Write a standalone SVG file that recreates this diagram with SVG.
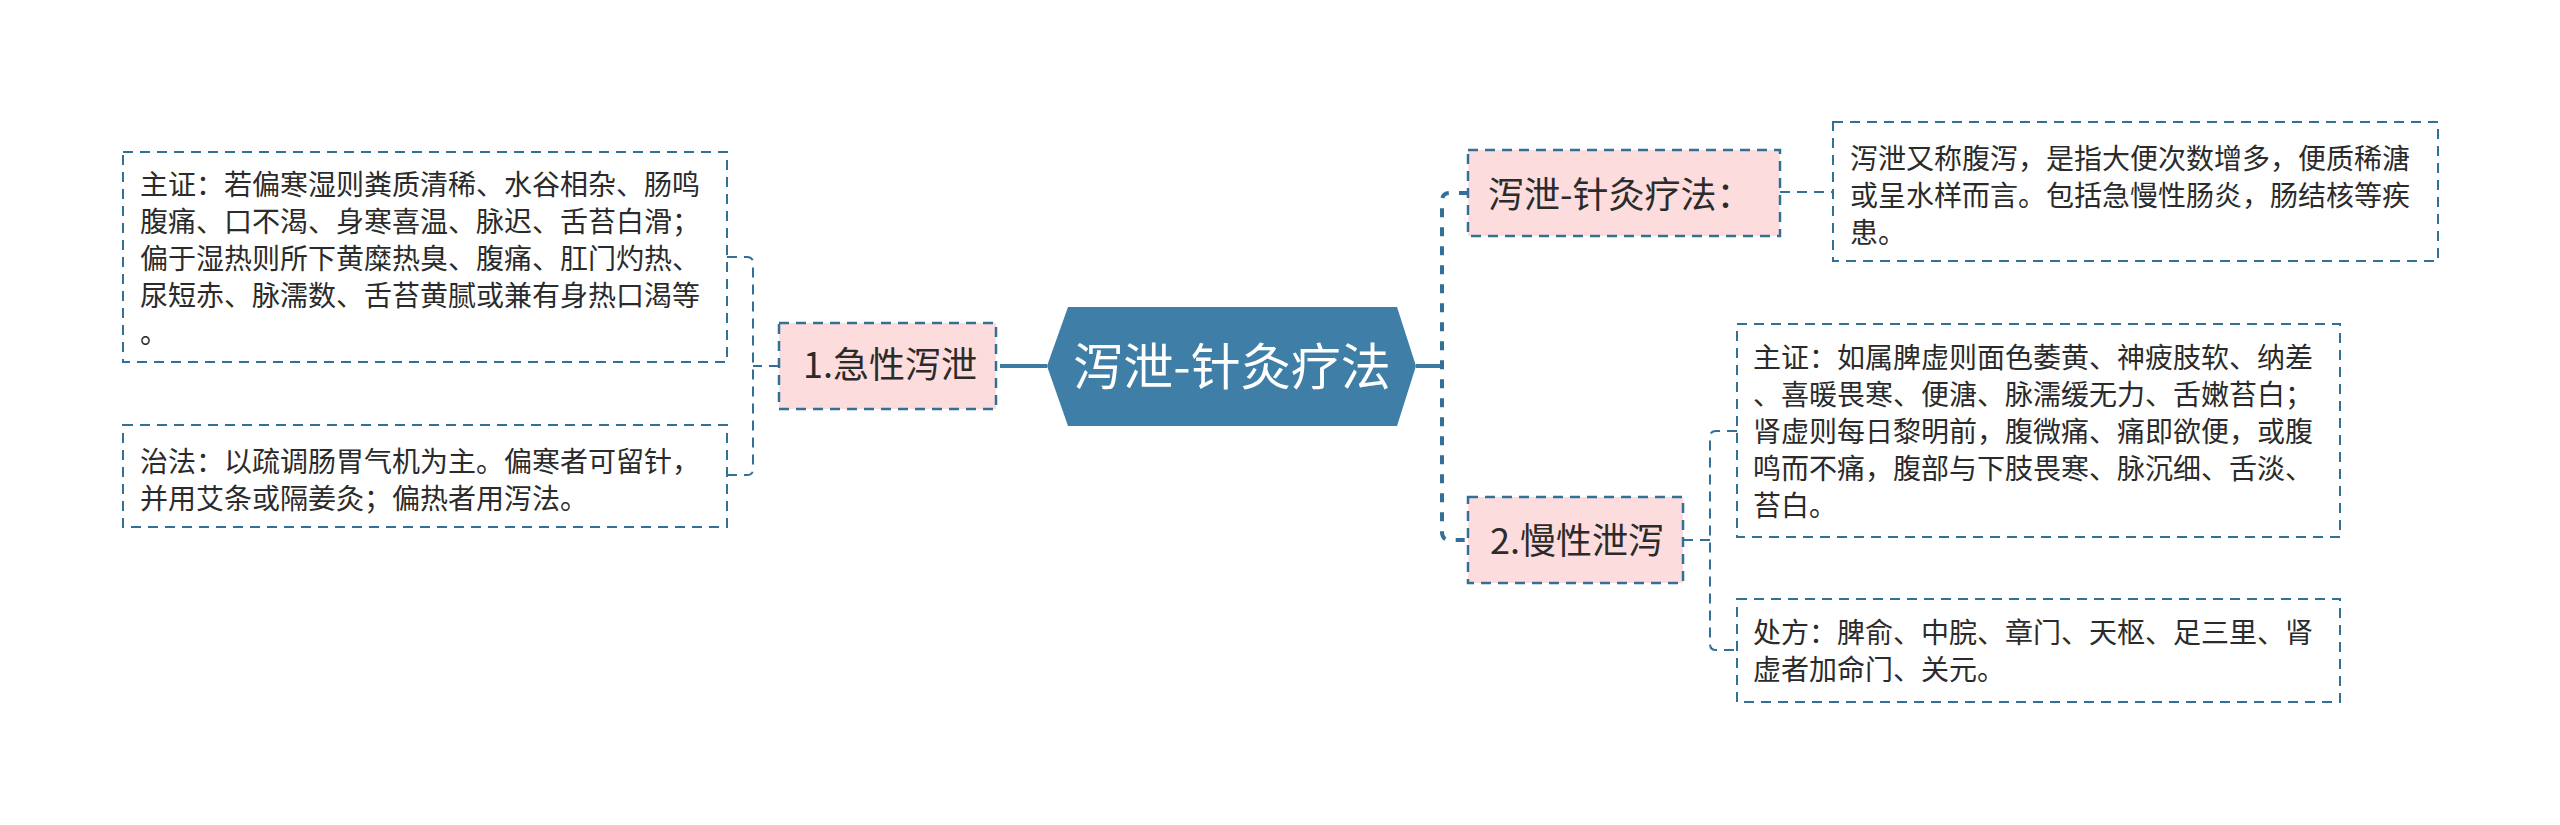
<svg xmlns="http://www.w3.org/2000/svg" width="2560" height="825" viewBox="0 0 2560 825">
<style>
.box{fill:#ffffff;stroke:#336f96;stroke-width:2;stroke-dasharray:10 7;}
.sub{fill:#fcdcdc;stroke:#336f96;stroke-width:2.5;stroke-dasharray:10 7;}
.t{font-family:"Noto Sans CJK SC","Noto Sans",sans-serif;font-size:28px;fill:#2b2b2b;}
.n{font-family:"Noto Sans CJK SC","Noto Sans",sans-serif;font-size:36px;fill:#2b2b2b;}
.c{font-family:"Noto Sans CJK SC","Noto Sans",sans-serif;font-size:50px;fill:#ffffff;text-anchor:middle;}
.thin{fill:none;stroke:#336f96;stroke-width:2;stroke-dasharray:10 7;}
.thick{fill:none;stroke:#336f96;stroke-width:4;stroke-dasharray:9 10;}
.solid{fill:none;stroke:#3b7aa2;stroke-width:4;}
</style>
<rect width="2560" height="825" fill="#ffffff"/>
<g id="connectors">
<line class="solid" x1="1000" y1="366" x2="1047" y2="366"/>
<line class="solid" x1="1416" y1="366" x2="1442" y2="366"/>
<path class="thick" d="M1468,193 H1450 Q1442,193 1442,201 V532 Q1442,540 1450,540 H1468"/>
<path class="thin" d="M779,366 H753"/>
<path class="thin" d="M727,257 H747 Q753,257 753,263 V469 Q753,475 747,475 H727"/>
<line class="thin" x1="1780" y1="192" x2="1832" y2="192"/>
<path class="thin" d="M1683,540 H1710"/>
<path class="thin" d="M1737,431 H1716 Q1710,431 1710,437 V644 Q1710,650 1716,650 H1737"/>
</g>
<g id="root">
<polygon points="1047,366 1068,307 1397,307 1416,366 1397,426 1068,426" fill="#3f7ea7"/>
<text class="c" x="1232" y="385">泻泄-针灸疗法</text>
</g>
<g id="node-acute">
<rect class="sub" x="779" y="323" width="217" height="86"/>
<text class="n" x="803" y="378">1.急性泻泄</text>
</g>
<g id="node-acute-symptom">
<rect class="box" x="123" y="152" width="604" height="210"/>
<text class="t" x="140" y="195">主证：若偏寒湿则粪质清稀、水谷相杂、肠鸣</text>
<text class="t" x="140" y="232">腹痛、口不渴、身寒喜温、脉迟、舌苔白滑；</text>
<text class="t" x="140" y="269">偏于湿热则所下黄糜热臭、腹痛、肛门灼热、</text>
<text class="t" x="140" y="306">尿短赤、脉濡数、舌苔黄腻或兼有身热口渴等</text>
<text class="t" x="140" y="343">。</text>
</g>
<g id="node-acute-treat">
<rect class="box" x="123" y="425" width="604" height="102"/>
<text class="t" x="140" y="472">治法：以疏调肠胃气机为主。偏寒者可留针，</text>
<text class="t" x="140" y="509">并用艾条或隔姜灸；偏热者用泻法。</text>
</g>
<g id="node-def">
<rect class="sub" x="1468" y="150" width="312" height="86"/>
<text class="n" x="1488" y="208">泻泄-针灸疗法：</text>
</g>
<g id="node-def-text">
<rect class="box" x="1833" y="122" width="605" height="139"/>
<text class="t" x="1850" y="169">泻泄又称腹泻，是指大便次数增多，便质稀溏</text>
<text class="t" x="1850" y="206">或呈水样而言。包括急慢性肠炎，肠结核等疾</text>
<text class="t" x="1850" y="243">患。</text>
</g>
<g id="node-chronic">
<rect class="sub" x="1468" y="497" width="215" height="86"/>
<text class="n" x="1490" y="554">2.慢性泄泻</text>
</g>
<g id="node-chronic-symptom">
<rect class="box" x="1737" y="324" width="603" height="213"/>
<text class="t" x="1753" y="368">主证：如属脾虚则面色萎黄、神疲肢软、纳差</text>
<text class="t" x="1753" y="405">、喜暖畏寒、便溏、脉濡缓无力、舌嫩苔白；</text>
<text class="t" x="1753" y="442">肾虚则每日黎明前，腹微痛、痛即欲便，或腹</text>
<text class="t" x="1753" y="479">鸣而不痛，腹部与下肢畏寒、脉沉细、舌淡、</text>
<text class="t" x="1753" y="516">苔白。</text>
</g>
<g id="node-chronic-rx">
<rect class="box" x="1737" y="599" width="603" height="103"/>
<text class="t" x="1753" y="643">处方：脾俞、中脘、章门、天枢、足三里、肾</text>
<text class="t" x="1753" y="680">虚者加命门、关元。</text>
</g>
</svg>
